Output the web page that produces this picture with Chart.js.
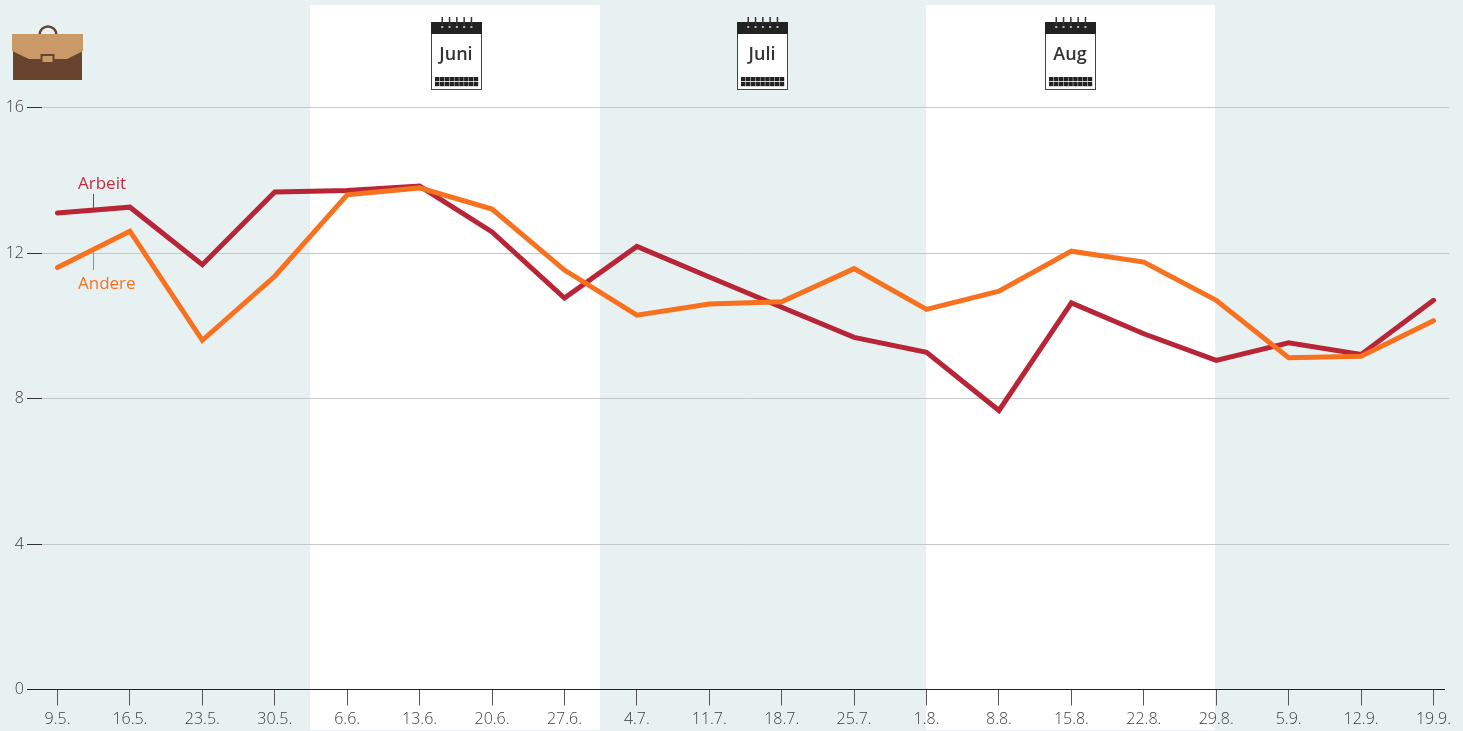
<!DOCTYPE html>
<html><head><meta charset="utf-8">
<style>html,body{margin:0;padding:0;background:#e8f1f2;overflow:hidden}#w{position:relative;width:1463px;height:731px}</style>
<script src="https://cdn.jsdelivr.net/npm/chart.js@4"></script></head>
<body><div id="w"><canvas id="c" width="1463" height="731"></canvas></div>
<script>
const categories=["9.5.","16.5.","23.5.","30.5.","6.6.","13.6.","20.6.","27.6.","4.7.","11.7.","18.7.","25.7.","1.8.","8.8.","15.8.","22.8.","29.8.","5.9.","12.9.","19.9."];
const arbeit=[13.10,13.26,11.68,13.68,13.72,13.84,12.58,10.76,12.18,11.34,10.51,9.68,9.27,7.67,10.63,9.78,9.05,9.53,9.21,10.70];
const andere=[11.60,12.60,9.60,11.36,13.60,13.79,13.21,11.53,10.29,10.60,10.66,11.57,10.45,10.95,12.05,11.75,10.70,9.12,9.16,10.14];
const yTicks=[0,4,8,12,16];
const months=["Juni","Juli","Aug"];
const whiteBands=[[3.49,7.49],[11.99,15.985]];
const monthCentres=[5.5,9.73,13.98];
const FONT='"Open Sans"';
const BG='#e8f1f2',RED='#b82537',ORANGE='#f8711f',BROWN='#6a432e',TAN='#c99a68';

function briefcase(g){
  g.save();
  g.strokeStyle=BROWN;g.lineWidth=2.5;
  g.beginPath();g.arc(48,35,8.5,Math.PI,0);g.stroke();
  g.fillStyle=BROWN;g.fillRect(13,50,69,30);
  g.fillStyle=TAN;g.beginPath();
  g.moveTo(12,34);g.lineTo(83,34);g.lineTo(83,51);g.lineTo(67,59);g.lineTo(29,59);g.lineTo(12,51);g.closePath();g.fill();
  g.fillStyle=TAN;g.strokeStyle=BROWN;g.lineWidth=2;g.fillRect(41.5,55,12,8);g.strokeRect(41.5,55,12,8);
  g.restore();
}
function calendar(g,cx,txt){
  const l=Math.round(cx-25);
  g.save();
  g.fillStyle='#fff';g.strokeStyle='#444';g.lineWidth=1;
  g.fillRect(l,22,51,67);g.strokeRect(l+.5,22.5,50,67);
  g.fillStyle='#222';g.fillRect(l,22,51,12);
  for(let i=0;i<5;i++){
    const x=l+10.5+i*7.3;
    g.fillStyle='#333';g.fillRect(x,17,1.5,8);
    g.fillStyle='#bbb';g.fillRect(x-.25,26,2,2);
  }
  g.fillStyle='#222';
  for(let r=0;r<2;r++)for(let i=0;i<9;i++)g.fillRect(l+4+i*4.85,77+r*5,4.4,4.2);
  g.fillStyle='#333';g.font='600 18px '+FONT;g.textAlign='center';g.textBaseline='alphabetic';
  g.fillText(txt,l+25,60);
  g.restore();
}
const deco={
  id:'deco',
  beforeDraw(ch){
    const g=ch.ctx,x=ch.scales.x;
    g.save();g.fillStyle=BG;g.fillRect(0,0,ch.width,ch.height);
    g.fillStyle='#fff';
    whiteBands.forEach(b=>{const a=Math.round(x.getPixelForValue(b[0])),e=Math.round(x.getPixelForValue(b[1]));g.fillRect(a,5,e-a,725);});
    g.restore();
  },
  afterDatasetsDraw(ch){
    const g=ch.ctx,x=ch.scales.x,y=ch.scales.y;
    briefcase(g);
    months.forEach((m,i)=>calendar(g,x.getPixelForValue(monthCentres[i]),m));
    g.save();
    g.fillStyle='#222';g.fillRect(27,Math.floor(y.getPixelForValue(0)),1418,1);
    g.font='400 17px '+FONT;g.textAlign='left';g.textBaseline='alphabetic';
    g.strokeStyle=RED;g.lineWidth=1;g.beginPath();g.moveTo(93.5,194);g.lineTo(93.5,209);g.stroke();
    g.fillStyle='#c22d42';g.fillText('Arbeit',78,189);
    g.strokeStyle=ORANGE;g.beginPath();g.moveTo(93.5,251);g.lineTo(93.5,270);g.stroke();
    g.fillStyle=ORANGE;g.fillText('Andere',78,289);
    g.restore();
  }
};
new Chart(document.getElementById('c'),{
  type:'line',
  data:{datasets:[
    {label:'Arbeit',data:arbeit.map((v,i)=>({x:i,y:v})),borderColor:RED,borderWidth:5,pointRadius:0,tension:0,borderCapStyle:'round',borderJoinStyle:'miter',order:2,clip:false},
    {label:'Andere',data:andere.map((v,i)=>({x:i,y:v})),borderColor:ORANGE,borderWidth:5,pointRadius:0,tension:0,borderCapStyle:'round',borderJoinStyle:'miter',order:1,clip:false}
  ]},
  options:{
    responsive:false,animation:false,
    layout:{padding:{top:107.5,right:14,left:0,bottom:0}},
    plugins:{legend:{display:false},tooltip:{enabled:false},title:{display:false}},
    scales:{
      x:{type:'linear',min:-0.214,max:19.214,
        afterBuildTicks(s){s.ticks=categories.map((_,i)=>({value:i}));},
        afterFit(s){s.height=41.5;},
        border:{display:false},
        grid:{drawOnChartArea:false,drawTicks:true,tickLength:16,tickColor:'#555',lineWidth:1},
        ticks:{autoSkip:false,maxRotation:0,padding:4,color:'#3c3c3c',font:{family:'"Open Sans"',size:16,weight:'300'},callback:v=>categories[v]}
      },
      y:{min:0,max:16,
        afterBuildTicks(s){s.ticks=yTicks.map(v=>({value:v}));},
        afterFit(s){s.width=42;},
        border:{display:false},
        grid:{color:c=>c.tick&&c.tick.value===0?'rgba(0,0,0,0)':'#c4c8c9',lineWidth:1,drawTicks:true,tickLength:15,tickColor:'#333'},
        ticks:{padding:3,color:'#3c3c3c',font:{family:'"Open Sans"',size:16,weight:'300'},callback:v=>String(v)}
      }
    }
  },
  plugins:[deco]
});
</script></body></html>
